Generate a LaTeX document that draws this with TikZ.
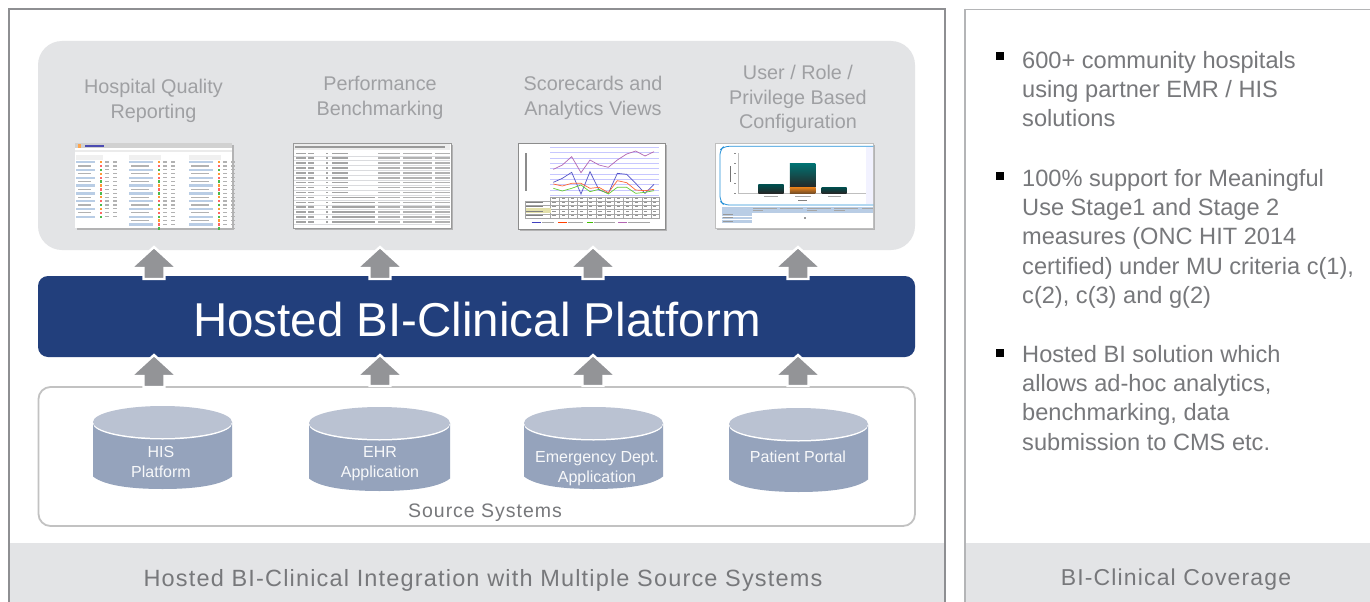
\documentclass[tikz,border=0pt]{standalone}
\usepackage{fontspec}
\setmainfont{Liberation Sans}
\newfontfamily\spacedfont[LetterSpace=5]{Liberation Sans}
\usetikzlibrary{shapes.geometric}
\definecolor{panelgrey}{HTML}{E3E4E6}
\definecolor{framedark}{HTML}{8E8F92}
\definecolor{framelight}{HTML}{B4B5B7}
\definecolor{navy}{HTML}{223F7C}
\definecolor{arrowgrey}{HTML}{939497}
\definecolor{cylbody}{HTML}{95A3BC}
\definecolor{cyltop}{HTML}{BAC2D2}
\definecolor{captext}{HTML}{9FA0A3}
\definecolor{bodytext}{HTML}{77787B}
\definecolor{thumbblue}{HTML}{B9CDE5}
\definecolor{thumbline}{HTML}{DADBDE}
\tikzset{
  caplabel/.style={text=captext,align=center,font=\fontsize{19.8}{24.5}\selectfont,inner sep=0pt},
  bodylabel/.style={text=bodytext,align=left,anchor=north west,font=\fontsize{23.6}{29.3}\selectfont,inner sep=0pt},
  cyllabel/.style={text=white!92!cylbody,align=center,font=\fontsize{16}{20}\selectfont,inner sep=0pt},
  bandlabel/.style={text=bodytext,inner sep=0pt},
  thumbshadow/.style={fill=black!45,draw=none,opacity=.55},
  bulletmark/.style={fill=black,draw=none,minimum size=8pt,inner sep=0pt},
}
% block arrow: centre x, tip y, base y
\newcommand{\blockarrow}[3]{%
  \path[fill=arrowgrey,draw=white,line width=2.4pt,miter limit=8]
    (#1,#2) -- (#1+23,#2+21) -- (#1+10.5,#2+21) -- (#1+10.5,#3) -- (#1-10.5,#3)
    -- (#1-10.5,#2+21) -- (#1-23,#2+21) -- cycle;}
% cylinder: left, right, centre y of top, bottom y of lower rim
\newcommand{\dbcyl}[4]{%
  \path[fill=cylbody] (#1,#3) -- (#1,#4-12.5)
    .. controls (#1+12,#4-3) and (#1+40,#4) .. ({(#1+#2)/2},#4)
    .. controls (#2-40,#4) and (#2-12,#4-3) .. (#2,#4-12.5) -- (#2,#3) -- cycle;
  \path[fill=white] ({(#1+#2)/2},#3+1.5) ellipse [x radius={(#2-#1)/2},y radius=16];
  \path[fill=cyltop] ({(#1+#2)/2},#3) ellipse [x radius={(#2-#1)/2},y radius=16];}
\begin{document}
\begin{tikzpicture}[x=1pt,y=-1pt,line join=miter]
\useasboundingbox (0,0) rectangle (1370,602);
\fill[white] (0,0) rectangle (1370,602);

% bottom bands
\fill[panelgrey] (9,543) rectangle (945,602);
\fill[panelgrey] (965,543) rectangle (1370,602);
% frames
\draw[framedark,line width=2pt] (9,606) -- (9,9.5) -- (945,9.5) -- (945,606);
\draw[framelight,line width=1.6pt] (965,606) -- (965,9.5) -- (1374,9.5);

% main panels
\fill[panelgrey,rounded corners=24pt] (38,41) rectangle (915,250);
\draw[black!24,line width=1.8pt,rounded corners=12pt] (38.5,387) rectangle (915,526);
\fill[navy,rounded corners=10pt] (38,276) rectangle (915,357);

% captions
\node[caplabel] (capa) at (153.5,101) {Hospital Quality\\Reporting};
\node[caplabel] (capb) at (380,98) {Performance\\Benchmarking};
\node[caplabel] (capc) at (593,98) {Scorecards and\\Analytics Views};
\node[caplabel] (capd) at (798,99) {User / Role /\\Privilege Based\\Configuration};

% ---------- thumbnail 1
\fill[thumbshadow] (77,145) rectangle (234,230);
\fill[white] (75,143) rectangle (232,228);
\fill[black!18] (75,143) rectangle (232,148);
\fill[orange!70] (78,144) rectangle (81,148);
\fill[blue!40!gray] (85,144.5) rectangle (104,147);
\fill[black!8] (75,150) rectangle (232,152);
\foreach \cx/\cw/\n in {76/19/15, 129/24/18, 189/24/18}{
  \fill[black!6] (\cx,155) rectangle ({\cx+\cw+8},160);
  \foreach \i in {1,...,\n}{
    \pgfmathsetmacro{\yy}{157+\i*3.9}
    \pgfmathtruncatemacro{\pick}{mod(\i,2)}
    \ifnum\pick=1
      \fill[thumbblue] (\cx,\yy) rectangle ({\cx+\cw},{\yy+2.4});
    \else
      \fill[black!30] (\cx+2,{\yy+.5}) rectangle ({\cx+\cw-4},{\yy+1.7});
    \fi
    \pgfmathtruncatemacro{\pickb}{mod(\i,3)}
    \ifnum\pickb=0 \def\tc{green!60!black!70}\else\ifnum\pickb=1 \def\tc{orange!80}\else\def\tc{red!60}\fi\fi
    \fill[\tc] ({\cx+\cw+5},\yy) rectangle ({\cx+\cw+6.8},{\yy+2.4});
    \fill[black!30] ({\cx+\cw+10},{\yy+.5}) rectangle ({\cx+\cw+14},{\yy+1.7});
    \fill[black!30] ({\cx+\cw+18},{\yy+.5}) rectangle ({\cx+\cw+22},{\yy+1.7});
  }
}

% ---------- thumbnail 2
\fill[thumbshadow] (295,145) rectangle (453,230);
\fill[white] (293,143) rectangle (451,228);
\draw[black!40,line width=.6pt] (293,143) rectangle (451,228);
\fill[black!7] (294,144) rectangle (450,150);
\fill[black!40] (295,146.4) rectangle (445,147.8);
\foreach \r in {0,...,14}{
  \pgfmathsetmacro{\yy}{152.5+\r*4.9}
  \draw[thumbline,line width=.3pt] (294,{\yy+3.2}) -- (450,{\yy+3.2});
  \fill[black!36] (296,\yy) rectangle (306,{\yy+1.5});
  \fill[black!36] (308,\yy) rectangle (314,{\yy+1.5});
  \fill[black!36] (326,\yy) rectangle (327.5,{\yy+1.5});
  \ifnum\r<9 \def\ww{348}\else\def\ww{375}\fi
  \fill[black!36] (332,\yy) rectangle (\ww,{\yy+1.5});
  \fill[black!30] (378,\yy) rectangle (400,{\yy+1.5});
  \fill[black!30] (403,\yy) rectangle (432,{\yy+1.5});
  \fill[black!30] (435,\yy) rectangle (450,{\yy+1.5});
}

% ---------- thumbnail 3
\fill[thumbshadow] (520,145) rectangle (667,231);
\fill[white] (518,143) rectangle (665,229);
\draw[black!45,line width=.6pt] (518,143) rectangle (665,229);
\begin{scope}[shift={(500,130)},x=.3333pt,y=-.3333pt]
  \foreach \g in {52,68,84,100,116,132,148,164,180,196}
    \draw[blue!22,line width=.5pt] (150,\g) -- (478,\g);
  \fill[black!45] (76,68) rectangle (80,184);
  \draw[blue!50!gray!90,line width=.7pt] (160,157) -- (187,145) -- (215,127) -- (243,192) -- (270,125) -- (297,180) -- (325,190) -- (352,130) -- (380,133) -- (407,160) -- (435,190) -- (462,163);
  \draw[red!50!orange!80,line width=.7pt] (160,162) -- (187,168) -- (215,160) -- (243,160) -- (270,175) -- (297,172) -- (325,188) -- (352,152) -- (380,158) -- (407,180) -- (435,182) -- (462,178);
  \draw[green!50!olive!80,line width=.7pt] (160,175) -- (187,183) -- (215,175) -- (243,165) -- (270,185) -- (297,178) -- (325,192) -- (352,172) -- (380,172) -- (407,190) -- (435,187) -- (462,182);
  \draw[violet!60,line width=.7pt] (160,118) -- (187,105) -- (215,80) -- (243,128) -- (270,90) -- (297,105) -- (325,112) -- (352,90) -- (380,72) -- (407,63) -- (435,78) -- (462,65);
  \draw[black!35,line width=.3pt] (75,212) rectangle (478,265);
  \foreach \h in {225,238,251} \draw[black!35,line width=.3pt] (75,\h) -- (478,\h);
  \draw[black!35,line width=.3pt] (150,200) -- (478,200);
  \foreach \v in {150,177,205,232,260,287,315,342,370,397,425,452,478} \draw[black!35,line width=.3pt] (\v,200) -- (\v,265);
  \fill[olive!25] (78,235) rectangle (152,248);
  \foreach \h in {218,231,244,258}{
    \fill[black!50] (78,\h-1.5) rectangle (130,\h+1.5);
    \foreach \v in {157,185,212,240,267,295,322,350,377,405,432,458} \fill[black!42] (\v,\h-1.5) rectangle (\v+10,\h+1.5);
  }
  \foreach \v in {157,185,212,240,267,295,322,350,377,405,432,458} \fill[black!42] (\v,205) rectangle (\v+10,208);
  \draw[blue!50!gray] (95,277) -- (122,277); \fill[black!35] (125,275.5) rectangle (163,278.5);
  \draw[red!50!orange] (175,277) -- (202,277); \fill[black!35] (205,275.5) rectangle (250,278.5);
  \draw[green!50!olive] (262,277) -- (279,277); \fill[black!35] (282,275.5) rectangle (345,278.5);
  \draw[violet!60] (355,277) -- (382,277); \fill[black!35] (385,275.5) rectangle (450,278.5);
\end{scope}

% ---------- thumbnail 4
\fill[thumbshadow] (717,145) rectangle (875,230);
\fill[white] (715,143) rectangle (873,228);
\draw[black!25,line width=.5pt] (715,143) rectangle (873,228);
\begin{scope}[shift={(500,130)},x=.3333pt,y=-.3333pt]
  \fill[blue!5] (1098,50) rectangle (1120,223);
  \draw[blue!40!cyan!70!gray,line width=.8pt,rounded corners=5pt] (1120,49) -- (672,49) -- (660,60) -- (660,213) -- (672,225) -- (1120,225);
  \draw[black!25,line width=.3pt] (713,70) -- (713,190) -- (1098,190);
  \foreach \t in {70,100,130,160,190} \fill[black!45] (703,\t-1.5) rectangle (709,\t+1.5);
  \fill[black!55] (690,108) rectangle (694,155);
  \shade[top color=teal!60!black,bottom color=black!85] (775,165) rectangle (851,190);
  \shade[top color=cyan!50!teal!60!black,bottom color=black!85] (870,100) rectangle (946,172);
  \shade[top color=orange!60!brown,bottom color=brown!60!black] (870,172) rectangle (946,190);
  \shade[top color=teal!60!black,bottom color=black!85] (965,172) rectangle (1040,190);
  \fill[black!35] (793,197) rectangle (833,201);
  \fill[black!35] (885,197) rectangle (932,201);
  \fill[black!35] (983,197) rectangle (1022,201);
  \fill[black!50] (893,209) rectangle (922,213);
  \fill[thumbblue] (665,230) rectangle (1120,248);
  \fill[thumbblue] (665,230) rectangle (756,278);
  \draw[white,line width=.4pt] (665,258) -- (756,258) (665,268) -- (756,268);
  \foreach \v/\e in {759/830,840/910,921/992,1003/1075,1085/1118} \fill[black!35] (\v,233) rectangle (\e,236);
  \foreach \v in {756,918,1000} \fill[black!35] (\v+3,241) rectangle (\v+34,244);
  \fill[black!40] (913,261) rectangle (918,266);
  \foreach \h in {252,262,272} \fill[black!40] (668,\h) rectangle (700,\h+3);
\end{scope}

% arrows up into the report panel
\blockarrow{154}{247}{279}
\blockarrow{380}{247}{279}
\blockarrow{593}{247}{279}
\blockarrow{798}{247}{279}
% arrows up into the platform
\blockarrow{154}{355}{387}
\blockarrow{380}{355}{386}
\blockarrow{593}{355}{386}
\blockarrow{798}{355}{386}

% platform title
\node[text=white,inner sep=0pt,font=\fontsize{47.5}{55}\selectfont] (platform) at (477,320) {Hosted BI-Clinical Platform};

% cylinders
\dbcyl{93}{232}{422}{489}
\dbcyl{309}{450}{423}{491}
\dbcyl{524}{663}{423}{489}
\dbcyl{729}{868}{424}{492}
\node[cyllabel] (his) at (161,462) {HIS\\Platform};
\node[cyllabel] (ehr) at (380,464) {EHR\\Application};
\node[cyllabel] (ed) at (597,469) {Emergency Dept.\\Application};
\node[cyllabel] (portal) at (798,457) {Patient Portal};
\node[text=bodytext,inner sep=0pt,font=\fontsize{19.5}{24}\spacedfont] (source) at (485,513) {Source Systems};

% band labels
\node[bandlabel,font=\fontsize{23.5}{28}\spacedfont] (bandl) at (483,580) {Hosted BI-Clinical Integration with Multiple Source Systems};
\node[bandlabel,font=\fontsize{23}{28}\spacedfont] (bandr) at (1176,580) {BI-Clinical Coverage};

% right column
\node[bulletmark] (ba) at (1000,56) {};
\node[bulletmark] (bb) at (1000,176) {};
\node[bulletmark] (bc) at (1000,353) {};
\node[bodylabel] (ta) at (1022,51) {600+ community hospitals\\using partner EMR / HIS\\solutions};
\node[bodylabel] (tb) at (1022,169) {100\% support for Meaningful\\Use Stage1 and Stage 2\\measures (ONC HIT 2014\\certified) under MU criteria c(1),\\c(2), c(3) and g(2)};
\node[bodylabel] (tc) at (1022,345) {Hosted BI solution which\\allows ad-hoc analytics,\\benchmarking, data\\submission to CMS etc.};
\end{tikzpicture}
\end{document}
